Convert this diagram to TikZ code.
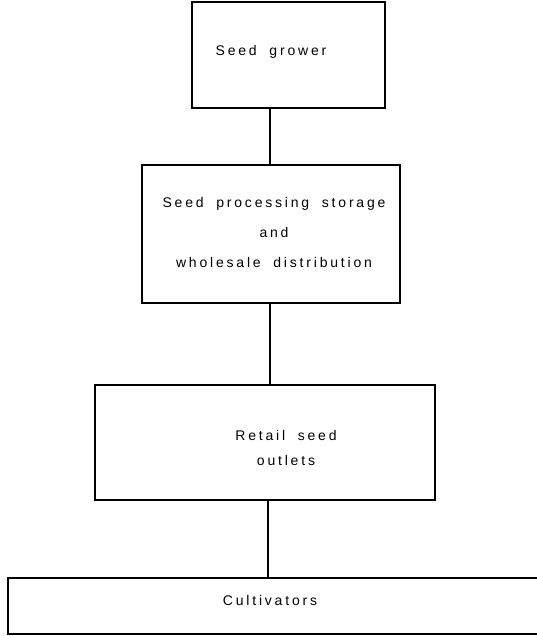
\documentclass[tikz,border=0pt]{standalone}
\usepackage{fontspec}
\setmainfont{Liberation Sans}[LetterSpace=20, WordSpace=1.9]
\usetikzlibrary{positioning}

\begin{document}
\begin{tikzpicture}[x=1pt, y=-1pt,
      stage/.style={draw, line width=1.6pt, inner sep=0pt},
      caption/.style={align=center, font=\fontsize{14}{27}\selectfont, inner sep=0pt},
      link/.style={line width=1.6pt}
    ]
      \useasboundingbox (0,0) rectangle (536,636);

      % Stage 1: grower
      \node[stage, minimum width=193pt, minimum height=106pt] (grower) at (288.5,55) {};
      \node[caption] (growertext) at (271,52) {Seed grower};

      % Stage 2: processing
      \node[stage, minimum width=258pt, minimum height=138pt] (processing) at (271,234) {};
      \node[caption, font=\fontsize{14}{30}\selectfont] (processingtext) at (274,232)
        {Seed processing storage\\ and\\ wholesale distribution};

      % Stage 3: retail
      \node[stage, minimum width=340pt, minimum height=115pt] (retail) at (265,442.5) {};
      \node[caption, font=\fontsize{14}{25}\selectfont] (retailtext) at (286,448) {Retail seed\\ outlets};

      % Stage 4: cultivators (runs off the page)
      \node[stage, minimum width=540pt, minimum height=56pt] (cultivators) at (278,606) {};
      \node[caption] (cultivatorstext) at (270,600) {Cultivators};

      % links
      \draw[link] (grower.south -| 270,0) -- (processing.north -| 270,0);
      \draw[link] (processing.south -| 270,0) -- (retail.north -| 270,0);
      \draw[link] (retail.south -| 268,0) -- (cultivators.north -| 268,0);
    \end{tikzpicture}
\end{document}
